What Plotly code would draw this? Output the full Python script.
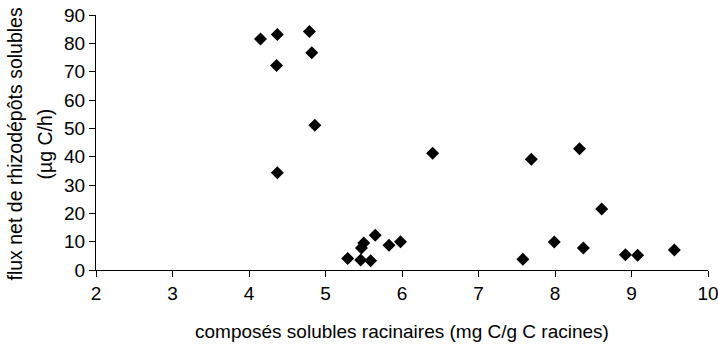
import plotly.graph_objects as go

# Data
racinaires = [4.15, 4.37, 4.79, 4.82, 4.36, 4.86, 4.37,
              5.29, 5.46, 5.59, 5.47, 5.50, 5.65, 5.83, 5.98,
              6.40, 7.58, 7.69, 7.99, 8.32, 8.37, 8.61, 8.92, 9.08, 9.56]
flux = [81.5, 83.1, 84.2, 76.7, 72.2, 51.1, 34.3,
        4.1, 3.5, 3.3, 7.8, 9.5, 12.3, 8.7, 10.0,
        41.2, 3.8, 39.1, 9.9, 42.8, 7.8, 21.5, 5.4, 5.2, 7.1]

x_title = 'composés solubles racinaires (mg C/g C racines)'
y_title = ['flux net de rhizodépôts solubles', '(µg C/h)']

fig = go.Figure()
fig.add_trace(go.Scatter(
    x=racinaires,
    y=flux,
    mode='markers',
    marker=dict(symbol='diamond', size=10, color='black'),
    showlegend=False
))

font = dict(family='Liberation Sans, Arial, sans-serif', size=19, color='black')

fig.update_layout(
    width=718,
    height=344,
    margin=dict(l=96, r=10, t=15, b=74),
    plot_bgcolor='white',
    paper_bgcolor='white',
    font=font,
    xaxis=dict(
        range=[2, 10],
        dtick=1,
        automargin=False,
        ticklabeloverflow='allow',
        showgrid=False,
        zeroline=False,
        showline=True,
        linecolor='black',
        linewidth=1,
        ticks='outside',
        ticklen=6,
        tickcolor='black',
    ),
    yaxis=dict(
        range=[0, 90],
        dtick=10,
        automargin=False,
        ticklabeloverflow='allow',
        showgrid=False,
        zeroline=False,
        showline=True,
        linecolor='black',
        linewidth=1,
        ticks='outside',
        ticklen=6,
        tickcolor='black',
    ),
)

# axis titles as annotations so they sit where the reference has them
fig.add_annotation(text=x_title, xref='paper', yref='paper', x=0.5, y=0,
                   yanchor='middle', yshift=-61, showarrow=False,
                   font=dict(size=19))
fig.add_annotation(text=y_title[0], xref='paper', yref='paper', x=0, y=0.5,
                   xanchor='center', yanchor='middle', xshift=-82, yshift=-2,
                   textangle=-90, showarrow=False, font=dict(size=19.5))
fig.add_annotation(text=y_title[1], xref='paper', yref='paper', x=0, y=0.5,
                   xanchor='center', yanchor='middle', xshift=-52, yshift=-2,
                   textangle=-90, showarrow=False, font=dict(size=19.5))

# drop the default 8px page margin so the figure fills the window
fig.write_html('out.html', config={'displayModeBar': False},
               post_script="document.body.style.margin='0';")
